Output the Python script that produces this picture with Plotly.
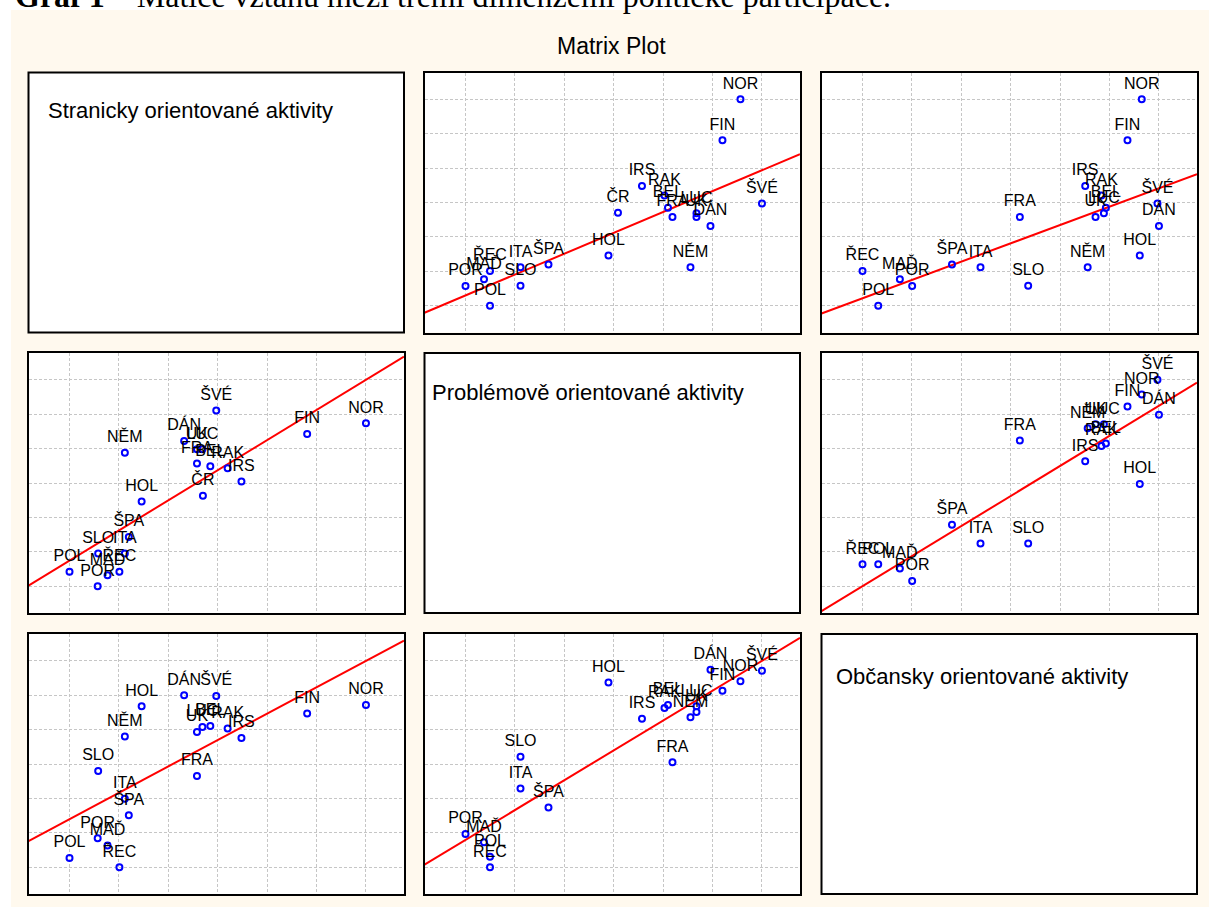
import numpy as np
import plotly.graph_objects as go

# ---------------- data (arbitrary linear units) -------------
countries = ["NOR", "FIN", "ŠVÉ", "DÁN", "IRS", "RAK", "BEL", "FRA", "LUC", "UK",
             "ČR", "HOL", "NĚM", "ŠPA", "ITA", "SLO", "ŘEC", "MAĎ", "POR", "POL"]
party = [6.00, 4.81, 2.97, 2.32, 3.48, 3.20, 2.85, 2.58, 2.69, 2.58,
         2.70, 1.46, 1.12, 1.20, 1.12, 0.58, 1.01, 0.77, 0.57, 0.00]
issue = [5.50, 5.14, 5.93, 4.90, 3.53, 3.98, 4.05, 4.14, 4.62, 4.62,
         3.05, 2.86, 4.50, 1.66, 1.10, 1.10, 0.49, 0.37, 0.00, 0.49]
civic = [5.68, 5.39, 6.00, 6.03, 4.53, 4.86, 4.95, 3.20, 4.91, 4.74,
         None, 5.64, 4.58, 1.82, 2.40, 3.37, 0.00, 0.76, 1.01, 0.32]
var_titles = ["Stranicky orientované aktivity",
              "Problémově orientované aktivity",
              "Občansky orientované aktivity"]
chart_title = "Matrix Plot"
caption = "<b>Graf 1</b> – Matice vztahů mezi třemi dimenzemi politické participace."

# ---------------- layout geometry -------------
W, H = 1209, 907
col_x0 = [28.5, 424.5, 821.5]
col_w = 375.5
row_y0 = [72.5, 353.0, 634.0]
row_h = 260.0
PAD_L, PAD_R, PAD_V = 0.83, 0.77, 0.78
label_pos = [(46, 110.5), (430, 392), (834, 676)]

CREAM = "#FFF9EE"
SANS = "Liberation Sans, Arial, sans-serif"

variables = [party, issue, civic]
fig = go.Figure()
shapes = [
    dict(type="rect", xref="paper", yref="paper", x0=0, x1=11 / W, y0=0, y1=1,
         fillcolor="white", line=dict(width=0), layer="below"),
    dict(type="rect", xref="paper", yref="paper", x0=0, x1=1, y0=1 - 10 / H, y1=1,
         fillcolor="white", line=dict(width=0), layer="below"),
]
annotations = []
layout_axes = {}

k = 0
for r in range(3):
    for c in range(3):
        dx0 = col_x0[c] / W
        dx1 = (col_x0[c] + col_w) / W
        dy1 = 1 - row_y0[r] / H
        dy0 = 1 - (row_y0[r] + row_h) / H
        if r == c:
            shapes.append(dict(type="rect", xref="paper", yref="paper",
                               x0=dx0, x1=dx1, y0=dy0, y1=dy1, fillcolor="white",
                               line=dict(color="black", width=2), layer="below"))
            lx, ly = label_pos[r]
            annotations.append(dict(text=var_titles[r], x=lx / W, y=1 - ly / H,
                                    xref="paper", yref="paper", xanchor="left",
                                    yanchor="middle", showarrow=False,
                                    font=dict(family=SANS, size=22, color="black")))
            continue
        k += 1
        xs, ys = variables[c], variables[r]
        pts = [(n, xv, yv) for n, xv, yv in zip(countries, xs, ys)
               if xv is not None and yv is not None]
        names = [p[0] for p in pts]
        xa = np.array([p[1] for p in pts], dtype=float)
        ya = np.array([p[2] for p in pts], dtype=float)
        b, a = np.polyfit(xa, ya, 1)
        xlo, xhi = xa.min(), xa.max()
        ends = [a + b * xlo, a + b * xhi]
        ylo = min(ya.min(), *ends)
        yhi = max(ya.max(), *ends)
        sx = (xhi - xlo) / 6
        sy = (yhi - ylo) / 6
        xr = [xlo - PAD_L * sx, xhi + PAD_R * sx]
        yr = [ylo - PAD_V * sy, yhi + PAD_V * sy]
        xname = "x" if k == 1 else f"x{k}"
        yname = "y" if k == 1 else f"y{k}"
        xkey = "xaxis" if k == 1 else f"xaxis{k}"
        ykey = "yaxis" if k == 1 else f"yaxis{k}"
        common = dict(showgrid=True, gridcolor="#c6c6c6", griddash="3px,2px", gridwidth=1,
                      tickmode="array", showticklabels=False, ticks="", zeroline=False,
                      showline=True, mirror=True, linecolor="black", linewidth=2,
                      fixedrange=True)
        layout_axes[xkey] = dict(domain=[dx0, dx1], range=xr, anchor=yname,
                                 tickvals=[xlo + i * sx for i in range(7)], **common)
        layout_axes[ykey] = dict(domain=[dy0, dy1], range=yr, anchor=xname,
                                 tickvals=[ylo + i * sy for i in range(7)], **common)
        # fitted regression line
        fig.add_trace(go.Scatter(x=xr, y=[a + b * v for v in xr], mode="lines",
                                 line=dict(color="#ff0000", width=2),
                                 xaxis=xname, yaxis=yname, hoverinfo="skip",
                                 showlegend=False))
        # country markers
        fig.add_trace(go.Scatter(x=xa, y=ya, mode="markers",
                                 marker=dict(symbol="circle-open", size=6, color="#0000ff",
                                             line=dict(width=2, color="#0000ff")),
                                 xaxis=xname, yaxis=yname, showlegend=False, text=names,
                                 hoverinfo="text"))
        # country labels (transparent spacer marker lifts text a little)
        fig.add_trace(go.Scatter(x=xa, y=ya, mode="markers+text", text=names,
                                 textposition="top center",
                                 textfont=dict(family=SANS, size=16, color="black"),
                                 marker=dict(size=9, color="rgba(0,0,0,0)",
                                             line=dict(width=0)),
                                 xaxis=xname, yaxis=yname, showlegend=False,
                                 hoverinfo="skip"))

annotations.append(dict(text=chart_title, x=611 / W, y=1 - 46 / H, xref="paper",
                        yref="paper", xanchor="center", yanchor="middle", showarrow=False,
                        font=dict(family=SANS, size=23, color="black")))
annotations.append(dict(text=caption, x=13 / W, y=1 + 3.5 / H, xref="paper",
                        yref="paper", xanchor="left", yanchor="middle", showarrow=False,
                        font=dict(family="Liberation Serif, Times New Roman, serif",
                                  size=32, color="black")))

fig.update_layout(width=W, height=H, margin=dict(l=0, r=0, t=0, b=0),
                  paper_bgcolor=CREAM, plot_bgcolor="white", showlegend=False,
                  shapes=shapes, annotations=annotations, **layout_axes)
fig.write_html("out.html", config={"displayModeBar": False},
               post_script="document.body.style.margin='0';"
                           "document.body.style.overflow='hidden';")
